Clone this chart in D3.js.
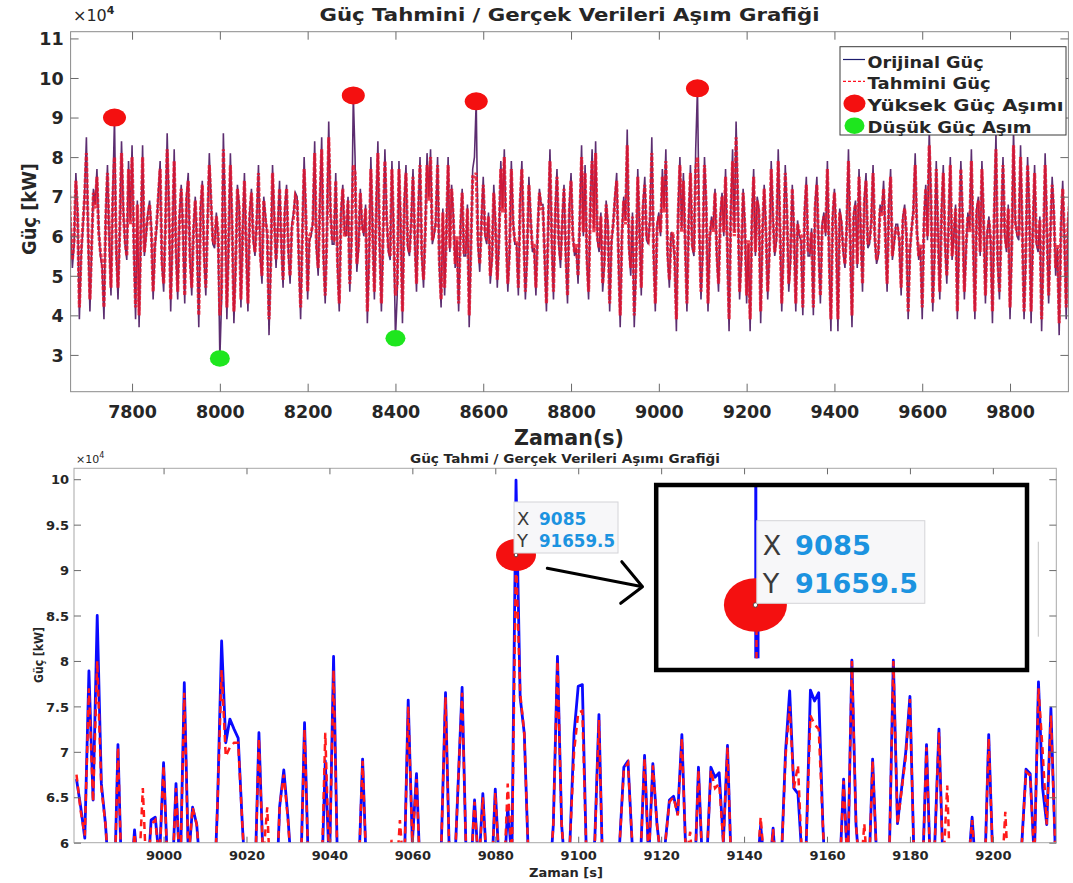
<!DOCTYPE html>
<html><head><meta charset="utf-8">
<script src="https://cdn.jsdelivr.net/npm/d3@7"></script>
<style>
body{margin:0;background:#fff}
svg{display:block}
text{font-family:"DejaVu Sans",sans-serif}
</style>
</head><body>
<svg id="c" width="1073" height="883"></svg>
<script>
// ================= DATA =================
// Top panel, samples at 7656 + 8*i s (values in kW)
const topStart = 7656, topStep = 8;
const topOriginal = [
78000,52000,76000,39000,62000,85000,41000,72000,77000,55000,
39000,78000,45000,90000,44000,84000,58000,79000,83000,39000,
37000,83000,60000,69000,44000,62000,79000,46000,86000,41000,
82000,44000,73000,43000,76000,45000,70000,37000,74000,45000,
81000,58000,66000,29100,86000,39000,81000,38000,73000,42000,
76000,41000,72000,55000,78000,48000,65000,35000,78000,52000,
74000,47000,73000,48000,66000,70000,39000,80000,44000,
60000,84000,50000,85000,43000,89000,58000,76000,41000,73000,
60000,46000,95600,51000,72000,60000,38000,80000,44000,84000,
41000,82000,56000,79000,34200,79000,38000,78000,55000,77000,
46000,80000,47000,81000,82000,60000,80000,42000,45000,80000,
73000,52000,41000,72000,55000,37000,77000,94100,51000,75000,
58000,48000,73000,47000,79000,82000,46000,79000,58000,45000,
79000,44000,75000,56000,45000,72000,68000,41000,82000,44000,
77000,52000,73000,43000,76000,55000,48000,83000,78000,44000,
82000,84000,56000,46000,69000,41000,63000,76000,37000,70000,
87000,50000,37000,77000,45000,75000,58000,85000,41000,66000,
77000,82000,47000,60000,36000,80000,76000,41000,78000,55000,
97400,44000,80000,41000,65000,72000,46000,71000,77000,36000,
82000,89000,44000,72000,43000,36000,77000,70000,38000,73000,
44000,79000,55000,82000,41000,78000,46000,73000,41000,
60000,40000,75000,55000,40000,75000,43000,66000,79000,36000,
72000,36000,64000,52000,82000,37000,69000,77000,46000,76000,
58000,78000,53000,68000,74000,46000,77000,58000,63000,45000,
68000,39000,62000,81000,54000,39000,73000,87000,41000,79000,
44000,78000,48000,80000,60000,39000,79000,44000,66000,82000,
39000,70000,79000,43000,65000,38000,86000,44000,80000,56000,
39000,87000,60000,83000,39000,80000,38000,78000,56000,36000,
81000,43000,75000,50000,35000,74000,39000,70000
];
// Top panel, samples at 7660 + 8*i s (in between the ones above)
const topOriginalMid = [
63000,58000,66000,55000,71000,60000,57000,68000,62000,52000,
65000,59000,70000,56000,61000,67000,54000,64000,58000,69000,
60000,55000,66000,62000,57000,71000,53000,63000,68000,59000,
56000,65000,61000,70000,54000,62000,58000,67000,55000,64000,
69000,57000,60000,44000,66000,58000,63000,52000,68000,61000,
57000,66000,59000,64000,55000,70000,60000,53000,65000,62000,
58000,67000,56000,63000,71000,54000,61000,66000,59000,
64000,57000,69000,55000,62000,67000,58000,53000,66000,61000,
70000,59000,80000,57000,63000,68000,55000,62000,66000,58000,
60000,65000,54000,61000,45000,63000,68000,57000,64000,59000,
66000,55000,62000,70000,58000,64000,53000,67000,61000,56000,
65000,59000,62000,55000,68000,57000,80000,58000,64000,60000,
66000,54000,63000,59000,67000,61000,56000,64000,58000,69000,
60000,55000,65000,57000,62000,68000,54000,63000,59000,66000,
58000,64000,55000,67000,61000,57000,65000,60000,54000,68000,
62000,59000,66000,53000,63000,58000,70000,55000,61000,64000,
57000,66000,52000,62000,68000,59000,65000,56000,63000,60000,
67000,55000,61000,54000,66000,62000,58000,64000,57000,82000,
63000,56000,68000,59000,62000,55000,65000,60000,57000,66000,
61000,69000,54000,63000,58000,64000,55000,67000,60000,62000,
56000,65000,59000,63000,57000,66000,54000,61000,64000,
59000,66000,55000,62000,68000,57000,63000,60000,54000,65000,
61000,67000,56000,63000,58000,66000,52000,62000,69000,57000,
64000,59000,55000,66000,61000,68000,54000,63000,58000,65000,
60000,56000,67000,62000,57000,64000,59000,70000,55000,61000,
66000,58000,63000,54000,68000,60000,65000,57000,62000,59000,
67000,55000,64000,61000,58000,66000,53000,63000,60000,68000,
57000,64000,59000,62000,55000,67000,61000,58000,65000,56000,
63000,60000,66000,57000,62000,59000,64000
];
const topPredicted = [
76000,54000,74000,42000,63000,81000,44000,71000,75000,56000,
42000,76000,47000,80000,47000,81000,59000,77000,80000,42000,
40000,80000,61000,68000,46000,63000,77000,48000,82000,44000,
79000,46000,72000,45000,74000,47000,69000,40000,73000,47000,
78000,59000,65000,40000,82000,42000,78000,41000,72000,44000,
74000,43000,71000,56000,76000,50000,64000,39000,76000,54000,
72000,49000,72000,50000,65000,69000,42000,77000,46000,
61000,81000,52000,82000,45000,85000,59000,74000,43000,72000,
61000,48000,78000,53000,71000,61000,41000,77000,46000,81000,
43000,79000,57000,77000,45000,77000,41000,76000,56000,75000,
48000,78000,49000,78000,80000,61000,78000,44000,47000,78000,
72000,53000,43000,71000,56000,40000,75000,76000,53000,73000,
59000,50000,71000,49000,77000,80000,48000,77000,59000,47000,
77000,46000,73000,57000,47000,71000,67000,43000,79000,46000,
75000,54000,72000,45000,74000,56000,50000,80000,76000,46000,
79000,81000,57000,48000,68000,43000,63000,74000,40000,69000,
83000,52000,40000,75000,47000,73000,59000,81000,43000,65000,
75000,79000,49000,61000,39000,78000,74000,43000,76000,56000,
80000,46000,78000,43000,64000,71000,48000,70000,75000,39000,
79000,85000,46000,71000,45000,39000,75000,69000,41000,72000,
46000,77000,56000,79000,43000,76000,48000,72000,43000,
61000,42000,73000,56000,42000,73000,45000,65000,77000,39000,
71000,39000,63000,53000,79000,40000,68000,75000,48000,74000,
59000,76000,54000,67000,72000,48000,75000,59000,62000,47000,
67000,41000,62000,78000,55000,42000,72000,83000,43000,77000,
46000,76000,50000,78000,61000,41000,77000,46000,65000,79000,
41000,69000,77000,45000,64000,41000,82000,46000,78000,57000,
42000,83000,61000,80000,41000,78000,41000,76000,57000,39000,
78000,45000,73000,52000,38000,72000,42000,69000
];
const topPredictedMid = [
62000,59000,65000,56000,70000,61000,58000,67000,61000,53000,
64000,60000,69000,57000,62000,66000,55000,63000,59000,68000,
61000,56000,65000,61000,58000,70000,54000,62000,67000,60000,
57000,64000,62000,69000,55000,61000,59000,66000,56000,63000,
68000,58000,61000,47000,65000,59000,62000,53000,67000,60000,
58000,65000,60000,63000,56000,69000,61000,54000,64000,61000,
59000,66000,57000,62000,70000,55000,60000,65000,60000,
63000,58000,68000,56000,61000,66000,59000,54000,65000,60000,
69000,60000,76000,58000,62000,67000,56000,61000,65000,59000,
61000,64000,55000,60000,48000,62000,67000,58000,63000,60000,
65000,56000,61000,69000,59000,63000,54000,66000,60000,57000,
64000,60000,61000,56000,67000,58000,75000,59000,63000,61000,
65000,55000,62000,60000,66000,60000,57000,63000,59000,68000,
61000,56000,64000,58000,61000,67000,55000,62000,60000,65000,
59000,63000,56000,66000,60000,58000,64000,61000,55000,67000,
61000,60000,65000,54000,62000,59000,69000,56000,60000,63000,
58000,65000,53000,61000,67000,60000,64000,57000,62000,61000,
66000,56000,60000,55000,65000,61000,59000,63000,58000,77000,
62000,57000,67000,60000,61000,56000,64000,61000,58000,65000,
60000,68000,55000,62000,59000,63000,56000,66000,61000,61000,
57000,64000,60000,62000,58000,65000,55000,60000,63000,
60000,65000,56000,61000,67000,58000,62000,61000,55000,64000,
60000,66000,57000,62000,59000,65000,53000,61000,68000,58000,
63000,60000,56000,65000,60000,67000,55000,62000,59000,64000,
61000,57000,66000,61000,58000,63000,60000,69000,56000,60000,
65000,59000,62000,55000,67000,61000,64000,58000,61000,60000,
66000,56000,63000,60000,59000,65000,54000,62000,61000,67000,
58000,63000,60000,61000,56000,66000,60000,59000,64000,57000,
62000,61000,65000,58000,61000,60000,63000
];
const highExceedX = [7760, 8304, 8584, 9088];
const highExceedY = [90000, 95600, 94100, 97400];
const lowExceedX = [8000, 8400];
const lowExceedY = [29100, 34200];
const topXTicks = [7800, 8000, 8200, 8400, 8600, 8800, 9000, 9200, 9400, 9600, 9800];
const topYTicks = [30000, 40000, 50000, 60000, 70000, 80000, 90000, 100000, 110000];

// Bottom panel: one sample per second starting at 8979 s (values in kW)
const zoomStart = 8979;
const zoomOriginal = [
67000,
64000,60500,78900,64700,85000,66500,62000,55000,52000,70800,
54000,50000,55000,61400,56000,57000,55000,62500,62800,58000,
68800,57000,55000,66500,56000,77600,58000,63900,62000,56000,
50000,48000,52000,64000,82200,71000,73600,72500,71500,62000,
54000,50000,55000,72100,58000,57000,53000,52000,64000,68000,
62800,56000,50000,55000,73200,56000,50000,48000,54000,69000,
57000,80500,56000,50000,48000,50000,52000,56000,69200,56000,
50000,48000,50000,53000,56000,57000,55000,58000,56000,75700,
60000,67600,55000,50000,48000,50000,54000,60000,76500,57000,
55000,66000,77100,58000,56000,64700,57000,65400,57000,55000,
65900,57000,55000,64000,58000,99900,76000,72000,58000,52000,
50000,48000,50000,55000,62000,80500,62000,56000,60000,72000,
77200,77400,58000,57000,60300,74100,55000,50000,48000,52000,
60000,68300,69000,60000,55000,58000,69600,58000,68700,62000,
58000,60000,64700,65100,63200,71900,58000,56000,55000,68300,
57000,58000,68300,67200,67700,60000,70700,56000,50000,48000,
47000,48000,52000,56000,61900,57000,56000,61600,55000,58000,
70000,76700,66000,65400,58000,60000,76800,75600,76500,62000,
52000,48000,50000,56000,67000,57000,80100,62000,56000,57000,
55000,69200,58000,52000,50000,58000,80100,62100,66000,70000,
76100,58000,52000,56000,70800,56000,60000,72500,57000,58000,
52000,50000,48000,52000,57000,62800,56000,52000,56000,71900,
58000,52000,55000,57000,54000,50000,52000,60000,68100,67600,
58000,77700,66000,62000,74800,60000
];
const zoomPredicted = [
67500,
63500,60800,77000,64500,80000,66000,62000,55000,52000,70500,
54000,50000,55000,61000,56000,66000,55000,62000,62500,58000,
68500,57000,55000,66000,56000,76500,58000,63900,62000,56000,
50000,48000,52000,64000,79000,69500,70500,71000,71000,62000,
54000,50000,55000,71500,58000,63900,53000,52000,64000,67500,
62500,56000,50000,55000,72500,56000,50000,48000,54000,72100,
57000,79000,56000,50000,48000,50000,52000,56000,69000,56000,
50000,48000,50000,53000,56000,60300,55000,62500,56000,75000,
60000,67000,55000,50000,48000,50000,54000,60000,76000,57000,
55000,66000,76500,58000,56000,64500,57000,65000,57000,55000,
65500,57000,55000,66500,58000,91659.5,76500,72000,58000,52000,
50000,48000,50000,55000,62000,80000,62000,56000,60000,70000,
74300,74500,58000,57000,60000,73500,55000,50000,48000,52000,
60000,68000,68800,60000,55000,58000,69300,58000,68500,62000,
58000,60000,64500,65000,63000,71500,58000,61200,55000,68000,
57000,58000,68000,66000,66500,60000,70500,56000,50000,48000,
47000,48000,52000,56000,62800,57000,56000,61500,55000,58000,
69500,75000,66000,68500,58000,60000,74000,73000,72500,62000,
52000,48000,50000,56000,66800,57000,80000,62000,56000,62100,
55000,69000,58000,52000,50000,58000,80000,62000,65800,69500,
75800,58000,52000,56000,70500,56000,60000,72200,57000,66300,
52000,50000,48000,52000,57000,62500,56000,52000,56000,71500,
58000,52000,55000,63400,54000,50000,52000,60000,67800,67400,
58000,77000,70100,62000,74000,60000
];
const tipX = 9085, tipY = 91659.5;
const zoomXTicks = [9000, 9020, 9040, 9060, 9080, 9100, 9120, 9140, 9160, 9180, 9200];
const zoomYTicks = [60000, 65000, 70000, 75000, 80000, 85000, 90000, 95000, 100000];

// ================= DRAW =================
const svg = d3.select('#c');
const defs = svg.append('defs');
const fmt1e4 = v => d3.format('~g')(v / 1e4);
const TXT = '#262626';

function mergeSeries(main, mid) {
  const out = [];
  main.forEach((v, i) => {
    out.push([topStart + i * topStep, v]);
    if (i < mid.length) out.push([topStart + i * topStep + topStep / 2, mid[i]]);
  });
  return out;
}
const topOrigSeries = mergeSeries(topOriginal, topOriginalMid);
const topPredSeries = mergeSeries(topPredicted, topPredictedMid);

// ---------- TOP PANEL ----------
const T = {l: 70.6, r: 1068.4, t: 31.7, b: 391.7};
const tx = d3.scaleLinear().domain([7660, 9933]).range([T.l, T.r]);
const ty = d3.scaleLinear().domain([20700, 111700]).range([T.b, T.t]);
defs.append('clipPath').attr('id', 'clipTop').append('rect')
  .attr('x', T.l).attr('y', T.t).attr('width', T.r - T.l).attr('height', T.b - T.t);

const gTop = svg.append('g');
const topPlot = gTop.append('g').attr('clip-path', 'url(#clipTop)');
const lineTop = d3.line().x(d => tx(d[0])).y(d => ty(d[1]));
topPlot.append('path').datum(topOrigSeries).attr('d', lineTop)
  .attr('fill', 'none').attr('stroke', '#4a1660').attr('stroke-width', 1.6).attr('stroke-opacity', 0.9);
topPlot.append('path').datum(topPredSeries).attr('d', lineTop)
  .attr('fill', 'none').attr('stroke', '#e8142c').attr('stroke-width', 3.2).attr('stroke-dasharray', '4,1.5').attr('stroke-opacity', 0.82);

// exceedance markers
topPlot.selectAll('.hi').data(highExceedX).join('ellipse')
  .attr('cx', (d) => tx(d)).attr('cy', (d, i) => ty(highExceedY[i]))
  .attr('rx', 11.5).attr('ry', 9).attr('fill', '#f41010');
topPlot.selectAll('.lo').data(lowExceedX).join('ellipse')
  .attr('cx', (d) => tx(d)).attr('cy', (d, i) => ty(lowExceedY[i]))
  .attr('rx', 10).attr('ry', 8.3).attr('fill', '#1ee61e');

// frame + ticks
gTop.append('rect').attr('x', T.l).attr('y', T.t).attr('width', T.r - T.l).attr('height', T.b - T.t)
  .attr('fill', 'none').attr('stroke', '#8a8a8a').attr('stroke-width', 1);
function ticksOnly(g){ g.select('.domain').remove(); g.selectAll('line').attr('stroke', '#6a6a6a'); }
gTop.append('g').attr('transform', `translate(0,${T.b})`)
  .call(d3.axisBottom(tx).tickValues(topXTicks).tickSize(-8).tickFormat(d => d))
  .call(ticksOnly)
  .call(g => g.selectAll('text').attr('y', 26.5).attr('dy', null)
     .attr('font-size', 17.5).attr('font-weight', 'bold').attr('fill', TXT).attr('font-family', 'DejaVu Sans'));
gTop.append('g').attr('transform', `translate(0,${T.t})`)
  .call(d3.axisTop(tx).tickValues(topXTicks).tickSize(-8).tickFormat(''))
  .call(ticksOnly);
gTop.append('g').attr('transform', `translate(${T.l},0)`)
  .call(d3.axisLeft(ty).tickValues(topYTicks).tickSize(-8).tickFormat(fmt1e4))
  .call(ticksOnly)
  .call(g => g.selectAll('text').attr('x', -7).attr('dy', '0.36em')
     .attr('font-size', 17.5).attr('font-weight', 'bold').attr('fill', TXT).attr('font-family', 'DejaVu Sans'));
gTop.append('g').attr('transform', `translate(${T.r},0)`)
  .call(d3.axisRight(ty).tickValues(topYTicks).tickSize(-8).tickFormat(''))
  .call(ticksOnly);

// texts
const xe4 = gTop.append('text').attr('x', 73).attr('y', 21).attr('font-size', 16).attr('fill', TXT);
xe4.append('tspan').text('×10');
xe4.append('tspan').attr('dy', -7).attr('font-size', 11).attr('font-weight', 'bold').text('4');
gTop.append('text').attr('x', 569.5).attr('y', 21).attr('text-anchor', 'middle')
  .attr('font-size', 17).attr('font-weight', 'bold').attr('fill', TXT)
  .attr('textLength', 500).attr('lengthAdjust', 'spacingAndGlyphs')
  .text('Güç Tahmini / Gerçek Verileri Aşım Grafiği');
gTop.append('text').attr('x', 569).attr('y', 444.5).attr('text-anchor', 'middle')
  .attr('font-size', 21).attr('font-weight', 'bold').attr('fill', TXT)
  .attr('textLength', 110).attr('lengthAdjust', 'spacingAndGlyphs')
  .text('Zaman(s)');
gTop.append('text').attr('transform', 'translate(36,209) rotate(-90)').attr('text-anchor', 'middle')
  .attr('font-size', 20).attr('font-weight', 'bold').attr('fill', TXT)
  .attr('textLength', 92).attr('lengthAdjust', 'spacingAndGlyphs')
  .text('Güç [kW]');

// legend
const legItems = [
  {label: 'Orijinal Güç', kind: 'line', w: 116},
  {label: 'Tahmini Güç', kind: 'dash', w: 123},
  {label: 'Yüksek Güç Aşımı', kind: 'red', w: 196},
  {label: 'Düşük Güç Aşım', kind: 'green', w: 164}
];
const leg = gTop.append('g');
leg.append('rect').attr('x', 840).attr('y', 46.7).attr('width', 226).attr('height', 88.3)
  .attr('fill', '#fff').attr('stroke', '#3a3a3a').attr('stroke-width', 1);
const legY = [61.5, 83.3, 105, 126.7];
legItems.forEach((it, i) => {
  const y = legY[i];
  if (it.kind === 'line') leg.append('line').attr('x1', 843).attr('x2', 865).attr('y1', y - 2).attr('y2', y - 2)
      .attr('stroke', '#1c1c6e').attr('stroke-width', 1.2);
  if (it.kind === 'dash') leg.append('line').attr('x1', 843).attr('x2', 865).attr('y1', y - 2).attr('y2', y - 2)
      .attr('stroke', '#ff1020').attr('stroke-width', 1.2).attr('stroke-dasharray', '3,2');
  if (it.kind === 'red') leg.append('ellipse').attr('cx', 854.5).attr('cy', y - 1.5).attr('rx', 11).attr('ry', 9).attr('fill', '#f41010');
  if (it.kind === 'green') leg.append('ellipse').attr('cx', 854.5).attr('cy', y - 1).attr('rx', 10).attr('ry', 8.3).attr('fill', '#1ee61e');
  leg.append('text').attr('x', 867.6).attr('y', y + 6).attr('font-size', 16).attr('font-weight', 'bold').attr('fill', TXT)
    .attr('textLength', it.w).attr('lengthAdjust', 'spacingAndGlyphs').text(it.label);
});

// ---------- BOTTOM PANEL ----------
const B = {l: 74, r: 1056.3, t: 468.3, b: 842.7};
const bx = d3.scaleLinear().domain([8978.4, 9215.3]).range([B.l, B.r]);
const by = d3.scaleLinear().domain([60000, 101200]).range([B.b, B.t]);
defs.append('clipPath').attr('id', 'clipBot').append('rect')
  .attr('x', B.l).attr('y', B.t).attr('width', B.r - B.l).attr('height', B.b - B.t);
const zoomT = zoomOriginal.map((_, i) => zoomStart + i);
const gBot = svg.append('g');
const botPlot = gBot.append('g').attr('clip-path', 'url(#clipBot)');
const lineBot = d3.line().x((d, i) => bx(zoomT[i])).y(d => by(d));
botPlot.append('path').datum(zoomOriginal).attr('d', lineBot)
  .attr('fill', 'none').attr('stroke', '#0a0aff').attr('stroke-width', 2.8).attr('stroke-linejoin', 'round');
botPlot.append('path').datum(zoomPredicted).attr('d', lineBot)
  .attr('fill', 'none').attr('stroke', '#ff1a1a').attr('stroke-width', 2.5).attr('stroke-dasharray', '7,5');

gBot.append('rect').attr('x', B.l).attr('y', B.t).attr('width', B.r - B.l).attr('height', B.b - B.t)
  .attr('fill', 'none').attr('stroke', '#a8a8a8').attr('stroke-width', 1);
gBot.append('g').attr('transform', `translate(0,${B.b})`)
  .call(d3.axisBottom(bx).tickValues(zoomXTicks).tickSize(-6).tickFormat(d => d))
  .call(ticksOnly)
  .call(g => g.selectAll('text').attr('y', 17.5).attr('dy', null)
     .attr('font-size', 13).attr('font-weight', 'bold').attr('fill', TXT).attr('font-family', 'DejaVu Sans'));
gBot.append('g').attr('transform', `translate(0,${B.t})`)
  .call(d3.axisTop(bx).tickValues(zoomXTicks).tickSize(-6).tickFormat(''))
  .call(ticksOnly);
gBot.append('g').attr('transform', `translate(${B.l},0)`)
  .call(d3.axisLeft(by).tickValues(zoomYTicks).tickSize(-7).tickFormat(fmt1e4))
  .call(ticksOnly)
  .call(g => g.selectAll('text').attr('x', -5).attr('dy', '0.36em')
     .attr('font-size', 13).attr('font-weight', 'bold').attr('fill', TXT).attr('font-family', 'DejaVu Sans'));
gBot.append('g').attr('transform', `translate(${B.r},0)`)
  .call(d3.axisRight(by).tickValues(zoomYTicks).tickSize(-7).tickFormat(''))
  .call(ticksOnly);

const xe4b = gBot.append('text').attr('x', 76).attr('y', 463).attr('font-size', 11).attr('fill', TXT);
xe4b.append('tspan').text('×10');
xe4b.append('tspan').attr('dy', -5).attr('font-size', 8).text('4');
gBot.append('text').attr('x', 565).attr('y', 462.5).attr('text-anchor', 'middle')
  .attr('font-size', 11.5).attr('font-weight', 'bold').attr('fill', TXT)
  .attr('textLength', 310).attr('lengthAdjust', 'spacingAndGlyphs')
  .text('Güç Tahmi / Gerçek Verileri Aşımı Grafiği');
gBot.append('text').attr('x', 566).attr('y', 877).attr('text-anchor', 'middle')
  .attr('font-size', 13).attr('font-weight', 'bold').attr('fill', TXT)
  .attr('textLength', 74).attr('lengthAdjust', 'spacingAndGlyphs')
  .text('Zaman [s]');
gBot.append('text').attr('transform', 'translate(43,655) rotate(-90)').attr('text-anchor', 'middle')
  .attr('font-size', 12).attr('font-weight', 'bold').attr('fill', TXT)
  .attr('textLength', 56).attr('lengthAdjust', 'spacingAndGlyphs')
  .text('Güç [kW]');

// exceedance marker with data tip
const mx = bx(tipX), my = by(tipY);
gBot.append('ellipse').attr('cx', mx).attr('cy', my).attr('rx', 20).attr('ry', 16).attr('fill', '#f41010');
gBot.append('circle').attr('cx', mx).attr('cy', my).attr('r', 1.8).attr('fill', '#fff').attr('stroke', '#333').attr('stroke-width', 0.8);
const tip = gBot.append('g');
tip.append('rect').attr('x', mx - 2).attr('y', 502).attr('width', 104).attr('height', 51)
  .attr('fill', '#f7f7f9').attr('stroke', '#d4d4d8').attr('stroke-width', 1);
tip.append('text').attr('x', mx + 1).attr('y', 524.5).attr('font-size', 18).attr('fill', '#3a3a3a').text('X');
tip.append('text').attr('x', mx + 23).attr('y', 524.5).attr('font-size', 17).attr('font-weight', 'bold').attr('fill', '#1c93e0').text(tipX);
tip.append('text').attr('x', mx + 1).attr('y', 546.5).attr('font-size', 18).attr('fill', '#3a3a3a').text('Y');
tip.append('text').attr('x', mx + 23).attr('y', 546.5).attr('font-size', 17).attr('font-weight', 'bold').attr('fill', '#1c93e0')
  .attr('textLength', 76).attr('lengthAdjust', 'spacingAndGlyphs').text(tipY);

// arrow
gBot.append('path').attr('d', 'M547.3,568.3 L642.5,586.7 M621.8,561.7 L642.5,586.7 L620.7,603.3')
  .attr('fill', 'none').attr('stroke', '#000').attr('stroke-width', 3).attr('stroke-linecap', 'round').attr('stroke-linejoin', 'round');

// magnified inset
const ins = gBot.append('g');
ins.append('line').attr('x1', 755.8).attr('x2', 755.8).attr('y1', 486).attr('y2', 658.3)
  .attr('stroke', '#0a0aff').attr('stroke-width', 3);
ins.append('line').attr('x1', 758).attr('x2', 758).attr('y1', 628).attr('y2', 658.3)
  .attr('stroke', '#0a0aff').attr('stroke-width', 3);
ins.append('line').attr('x1', 756.5).attr('x2', 756.5).attr('y1', 628).attr('y2', 658.3)
  .attr('stroke', '#ff1a1a').attr('stroke-width', 2.4).attr('stroke-dasharray', '7,5');
ins.append('ellipse').attr('cx', 755.4).attr('cy', 605).attr('rx', 31.5).attr('ry', 26.7).attr('fill', '#f41010');
ins.append('circle').attr('cx', 755.4).attr('cy', 605).attr('r', 2.2).attr('fill', '#fff').attr('stroke', '#333').attr('stroke-width', 0.8);
ins.append('rect').attr('x', 756.8).attr('y', 520.7).attr('width', 168).attr('height', 82.6)
  .attr('fill', '#f7f7f9').attr('stroke', '#d4d4d8').attr('stroke-width', 1);
ins.append('text').attr('x', 762.7).attr('y', 554.5).attr('font-size', 27).attr('fill', '#3a3a3a').text('X');
ins.append('text').attr('x', 795).attr('y', 554.5).attr('font-size', 27).attr('font-weight', 'bold').attr('fill', '#1c93e0')
  .attr('textLength', 76).attr('lengthAdjust', 'spacingAndGlyphs').text(tipX);
ins.append('text').attr('x', 762.7).attr('y', 592.5).attr('font-size', 27).attr('fill', '#3a3a3a').text('Y');
ins.append('text').attr('x', 795).attr('y', 592.5).attr('font-size', 27).attr('font-weight', 'bold').attr('fill', '#1c93e0')
  .attr('textLength', 123).attr('lengthAdjust', 'spacingAndGlyphs').text(tipY);
ins.append('rect').attr('x', 656.2).attr('y', 485).attr('width', 370.8).attr('height', 185)
  .attr('fill', 'none').attr('stroke', '#000').attr('stroke-width', 4.5);
// faint scroll line at right of panel
gBot.append('line').attr('x1', 1038.3).attr('x2', 1038.3).attr('y1', 541.7).attr('y2', 636.7)
  .attr('stroke', '#c4c4c4').attr('stroke-width', 1);
</script>
</body></html>
